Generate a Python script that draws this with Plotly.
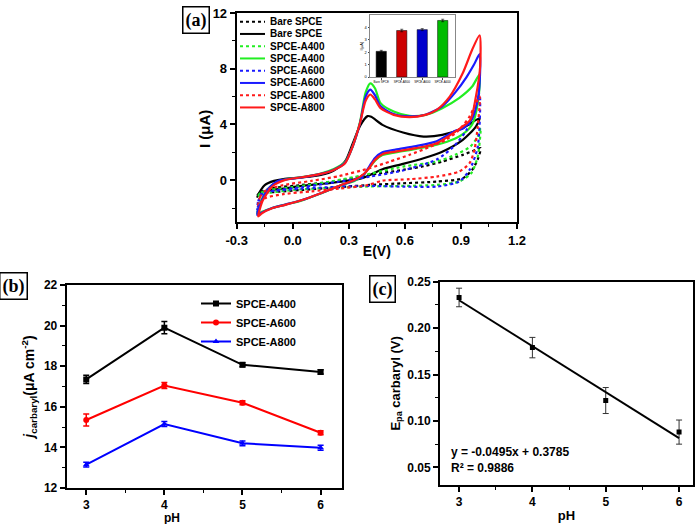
import plotly.graph_objects as go

# ---------------- Panel (a): cyclic voltammograms ----------------
bare_dot_E = [-0.19, -0.17, -0.12, 0.05, 0.22, 0.41, 0.59, 0.70, 0.80, 0.91, 0.98, 1.005,
              0.99, 0.96, 0.91, 0.77, 0.59, 0.41, 0.25, 0.05, -0.10, -0.17, -0.19]
bare_dot_I = [-1.1, -0.85, -0.6, -0.34, -0.1, 0.38, 0.74, 1.0, 1.34, 1.82, 2.18, 2.3,
              1.5, 0.74, 0.14, -0.1, -0.22, -0.34, -0.5, -0.7, -0.85, -0.95, -1.1]

bare_E = [-0.19, -0.17, -0.15, -0.10, -0.05, 0.05, 0.15, 0.22, 0.28, 0.32, 0.36, 0.40, 0.42, 0.48,
          0.59, 0.70, 0.80, 0.91, 1.00,
          0.98, 0.91, 0.80, 0.70, 0.59, 0.48, 0.44, 0.37, 0.26, 0.15, 0.05, -0.04, -0.13, -0.17, -0.19]
bare_I = [-1.2, -0.7, -0.35, -0.05, 0.08, 0.2, 0.38, 0.7, 1.35, 2.6, 3.9, 4.6, 4.55, 3.97,
          3.42, 3.13, 3.25, 3.73, 4.45,
          3.85, 2.9, 2.05, 1.58, 1.17, 0.79, 0.55, 0.15, -0.1, -0.27, -0.41, -0.58, -0.75, -0.9, -1.2]

a400_dot_E = [-0.19, -0.17, -0.12, 0.0, 0.2, 0.41, 0.59, 0.77, 0.87, 0.95, 0.99, 1.005,
              0.99, 0.955, 0.89, 0.77, 0.59, 0.41, 0.2, 0.0, -0.12, -0.17, -0.19]
a400_dot_I = [-1.2, -0.9, -0.7, -0.5, -0.1, 0.45, 0.98, 1.34, 1.82, 2.41, 3.13, 3.75,
              1.7, 0.5, -0.1, -0.34, -0.41, -0.45, -0.55, -0.7, -0.9, -1.0, -1.2]

a400_E = [-0.19, -0.17, -0.13, -0.08, -0.04, 0.05, 0.15, 0.22, 0.28, 0.32, 0.36, 0.39, 0.415, 0.44,
          0.47, 0.54, 0.625, 0.71, 0.80, 0.89, 0.96, 1.00,
          0.99, 0.96, 0.91, 0.87, 0.77, 0.66, 0.55, 0.48, 0.44, 0.41, 0.38, 0.33, 0.26, 0.15, 0.05,
          -0.04, -0.11, -0.17, -0.19]
a400_I = [-2.4, -1.5, -0.6, -0.1, 0.05, 0.22, 0.48, 0.8, 1.3, 2.4, 4.2, 6.3, 6.95, 6.6,
          5.53, 4.93, 4.62, 4.69, 5.17, 5.89, 6.72, 7.6,
          5.5, 4.0, 3.3, 3.0, 2.55, 2.25, 2.0, 1.8, 1.4, 0.9, 0.4, -0.05, -0.35, -0.95, -1.45,
          -1.75, -2.0, -2.3, -2.4]

a600_dot_E = [-0.19, -0.185, -0.16, -0.1, 0.05, 0.2, 0.41, 0.59, 0.77, 0.86, 0.93, 0.97, 1.0,
              0.99, 0.946, 0.89, 0.77, 0.59, 0.41, 0.2, 0.0, -0.12, -0.17, -0.19]
a600_dot_I = [-2.2, -1.5, -0.95, -0.75, -0.5, -0.2, 0.25, 0.7, 1.48, 2.41, 3.61, 5.05, 6.15,
              2.4, 0.74, -0.1, -0.46, -0.46, -0.41, -0.5, -0.65, -0.8, -1.0, -2.2]

a600_E = [-0.19, -0.17, -0.13, -0.08, -0.04, 0.05, 0.15, 0.22, 0.28, 0.32, 0.36, 0.39, 0.415, 0.44,
          0.47, 0.54, 0.625, 0.71, 0.80, 0.87, 0.93, 0.97, 1.00,
          1.00, 0.99, 0.96, 0.91, 0.87, 0.77, 0.66, 0.55, 0.48, 0.44, 0.41, 0.38, 0.33, 0.26, 0.15,
          0.05, -0.04, -0.11, -0.17, -0.19]
a600_I = [-2.5, -1.6, -0.6, -0.05, 0.05, 0.2, 0.45, 0.75, 1.25, 2.4, 4.1, 6.0, 6.5, 6.1,
          5.3, 4.75, 4.58, 4.7, 5.3, 6.3, 7.4, 8.3, 9.05,
          7.0, 5.8, 4.4, 3.7, 3.55, 2.8, 2.45, 2.2, 2.0, 1.6, 1.0, 0.4, 0.0, -0.35, -0.93,
          -1.42, -1.75, -2.0, -2.35, -2.5]

a800_dot_E = [-0.185, -0.175, -0.14, -0.05, 0.1, 0.25, 0.41, 0.52, 0.625, 0.73, 0.82, 0.89, 0.946,
              0.98, 1.0,
              0.99, 0.972, 0.946, 0.89, 0.77, 0.625, 0.48, 0.4, 0.25, 0.1, -0.05, -0.15, -0.185]
a800_dot_I = [-1.8, -1.2, -0.7, -0.35, -0.05, 0.3, 0.86, 1.34, 1.82, 2.37, 2.9, 3.61, 4.57,
              5.53, 6.0,
              3.85, 2.18, 1.22, 0.62, 0.26, 0.07, -0.03, -0.35, -0.6, -0.8, -1.0, -1.3, -1.8]

a800_E = [-0.185, -0.16, -0.11, -0.04, 0.05, 0.15, 0.22, 0.28, 0.32, 0.36, 0.39, 0.415, 0.44, 0.47,
          0.54, 0.625, 0.71, 0.77, 0.84, 0.91, 0.96, 1.00,
          1.003, 0.98, 0.95, 0.87, 0.77, 0.66, 0.55, 0.48, 0.44, 0.41, 0.385, 0.33, 0.26, 0.15,
          0.05, -0.04, -0.11, -0.165, -0.185]
a800_I = [-2.6, -1.45, -0.45, 0.02, 0.21, 0.45, 0.74, 1.22, 2.41, 4.1, 5.7, 6.15, 5.8, 5.17,
          4.69, 4.52, 4.69, 5.05, 6.0, 7.69, 9.36, 10.4,
          8.2, 6.0, 4.33, 3.49, 2.66, 2.3, 2.05, 1.87, 1.46, 0.9, 0.5, 0.02, -0.34, -0.93,
          -1.42, -1.77, -2.01, -2.37, -2.6]

cv_names = ["Bare SPCE", "Bare SPCE", "SPCE-A400", "SPCE-A400",
            "SPCE-A600", "SPCE-A600", "SPCE-A800", "SPCE-A800"]

# inset bar chart
inset_labels = ["Bare SPCE", "SPCE-A800", "SPCE-A600", "SPCE-A400"]
inset_values = [2.07, 3.75, 3.82, 4.56]
inset_err = [0.08, 0.1, 0.08, 0.1]

# ---------------- Panel (b) ----------------
ph_b = [3, 4, 5, 6]
j_a400 = [17.35, 19.9, 18.07, 17.72]
j_a400_err = [0.2, 0.3, 0.1, 0.1]
j_a600 = [15.35, 17.05, 16.2, 14.72]
j_a600_err = [0.3, 0.15, 0.1, 0.1]
j_a800 = [13.15, 15.15, 14.2, 13.98]
j_a800_err = [0.12, 0.12, 0.12, 0.12]

# ---------------- Panel (c) ----------------
ph_c = [3, 4, 5, 6]
epa = [0.233, 0.179, 0.122, 0.088]
epa_err = [0.010, 0.011, 0.014, 0.013]
fit_slope = -0.0495
fit_intercept = 0.3785
fit_x = [3, 6]

W, H = 700, 524


def px(x):
    return x / W


def py(y):
    return 1 - y / H


BLACK = "#000000"
GREEN = "#22ee22"
BLUE = "#1a1aff"
RED = "#ff1a1a"
FONT = "Liberation Sans"

fig = go.Figure()

cv_sets = [
    (bare_dot_E, bare_dot_I, BLACK, "dot"), (bare_E, bare_I, BLACK, "solid"),
    (a400_dot_E, a400_dot_I, GREEN, "dot"), (a400_E, a400_I, GREEN, "solid"),
    (a600_dot_E, a600_dot_I, BLUE, "dot"), (a600_E, a600_I, BLUE, "solid"),
    (a800_dot_E, a800_dot_I, RED, "dot"), (a800_E, a800_I, RED, "solid"),
]
for (ex, iy, col, dash), nm in zip(cv_sets, cv_names):
    fig.add_trace(go.Scatter(x=ex, y=iy, mode="lines", name=nm, showlegend=False,
                             line=dict(color=col, width=2.2, dash=dash, shape="spline", smoothing=0.7),
                             xaxis="x", yaxis="y"))

# inset bars
fig.add_trace(go.Bar(x=[0, 1, 2, 3], y=inset_values, width=0.5,
                     marker=dict(color=["#000000", "#cc0000", "#0000cc", "#00bb00"],
                                 line=dict(color="black", width=0.5)),
                     error_y=dict(type="data", array=inset_err, thickness=0.6, width=1.5, color="black"),
                     showlegend=False, xaxis="x4", yaxis="y4"))

# panel (b)
for yv, err, col, sym, nm in [(j_a400, j_a400_err, BLACK, "square", "SPCE-A400"),
                              (j_a600, j_a600_err, "#ff0000", "circle", "SPCE-A600"),
                              (j_a800, j_a800_err, "#0000ff", "triangle-up", "SPCE-A800")]:
    fig.add_trace(go.Scatter(x=ph_b, y=yv, mode="lines+markers", name=nm,
                             line=dict(color=col, width=2),
                             marker=dict(symbol=sym, size=6, color=col),
                             error_y=dict(type="data", array=err, thickness=1.5, width=3, color=col),
                             xaxis="x2", yaxis="y2", legend="legend"))

# panel (c)
fig.add_trace(go.Scatter(x=ph_c, y=epa, mode="markers", showlegend=False,
                         marker=dict(symbol="square", size=5, color="black"),
                         error_y=dict(type="data", array=epa_err, thickness=1, width=3, color="#333333"),
                         xaxis="x3", yaxis="y3"))
fig.add_trace(go.Scatter(x=fit_x, y=[fit_slope * v + fit_intercept for v in fit_x], mode="lines",
                         showlegend=False, line=dict(color="black", width=2),
                         xaxis="x3", yaxis="y3"))


def axis(**kw):
    base = dict(showline=True, linewidth=2, linecolor="black", mirror=True,
                ticks="outside", ticklen=5, tickwidth=1.5, tickcolor="black",
                showgrid=False, zeroline=False, automargin=False,
                tickfont=dict(family=FONT, size=13, color="black", weight="bold"))
    base.update(kw)
    return base


tf12 = dict(family=FONT, size=12, color="black", weight="bold")

fig.update_layout(
    width=W, height=H, margin=dict(l=0, r=0, t=0, b=0, pad=0, autoexpand=False),
    paper_bgcolor="white", plot_bgcolor="white",
    xaxis=axis(domain=[px(236.7), px(517)], range=[-0.3, 1.2], tickvals=[-0.3, 0, 0.3, 0.6, 0.9, 1.2],
               ticktext=["-0.3", "0.0", "0.3", "0.6", "0.9", "1.2"],
               minor=dict(ticks="outside", ticklen=3, tickwidth=1, tickcolor="black", tick0=-0.3, dtick=0.15),
               title=dict(text="E(V)", font=dict(family=FONT, size=14, color="black", weight="bold"), standoff=0),
               anchor="y"),
    yaxis=axis(domain=[py(222), py(13)], range=[-3, 12], tickvals=[0, 4, 8, 12],
               minor=dict(ticks="outside", ticklen=3, tickwidth=1, tickcolor="black", tick0=0, dtick=2),
               anchor="x"),
    xaxis2=axis(domain=[px(66.7), px(341.7)], range=[2.75, 6.27], tickvals=[3, 4, 5, 6],
                tickfont=tf12,
                minor=dict(ticks="outside", ticklen=3, tickwidth=1, tickcolor="black", tick0=3, dtick=0.5),
                anchor="y2"),
    yaxis2=axis(domain=[py(488), py(285)], range=[12, 22], tickvals=[12, 14, 16, 18, 20, 22],
                tickfont=tf12,
                minor=dict(ticks="outside", ticklen=3, tickwidth=1, tickcolor="black", tick0=12, dtick=1),
                title=dict(text="<i>j</i><sub>carbaryl</sub>(μA cm<sup>-2</sup>)",
                           font=dict(family=FONT, size=14, color="black", weight="bold"), standoff=6),
                anchor="x2"),
    xaxis3=axis(domain=[px(440), px(693)], range=[2.74, 6.19], tickvals=[3, 4, 5, 6],
                tickfont=tf12,
                minor=dict(ticks="outside", ticklen=3, tickwidth=1, tickcolor="black", tick0=3, dtick=0.5),
                title=dict(text="pH", font=dict(family=FONT, size=13, color="black", weight="bold"), standoff=2),
                anchor="y3"),
    yaxis3=axis(domain=[py(485), py(281.7)], range=[0.031, 0.25],
                tickvals=[0.05, 0.10, 0.15, 0.20, 0.25], ticktext=["0.05", "0.10", "0.15", "0.20", "0.25"],
                tickfont=tf12,
                minor=dict(ticks="outside", ticklen=3, tickwidth=1, tickcolor="black", tick0=0.025, dtick=0.025),
                title=dict(text="E<sub>pa</sub> carbaryl (V)",
                           font=dict(family=FONT, size=13, color="black", weight="bold"), standoff=4),
                anchor="x3"),
    xaxis4=dict(domain=[px(370), px(455)], range=[-0.55, 3.6], tickvals=[0, 1, 2, 3], ticktext=inset_labels,
                showline=True, linewidth=1, linecolor="#888888", mirror=True, ticks="outside", ticklen=1.5,
                tickcolor="#444444", showgrid=False, zeroline=False, tickangle=0, automargin=False,
                tickfont=dict(family=FONT, size=3, color="black"), anchor="y4"),
    yaxis4=dict(domain=[py(77), py(15)], range=[0, 5], tickvals=[0, 1, 2, 3, 4],
                showline=True, linewidth=1, linecolor="#888888", mirror=True, ticks="outside", ticklen=1.5,
                tickcolor="#444444", showgrid=False, zeroline=False, automargin=False,
                tickfont=dict(family=FONT, size=4, color="black"),
                title=dict(text="I(μA)", font=dict(family=FONT, size=4, color="black"), standoff=1),
                anchor="x4"),
    legend=dict(x=px(196), y=py(289), xanchor="left", yanchor="top",
                bgcolor="rgba(0,0,0,0)", font=dict(family=FONT, size=11, color="black", weight="bold"),
                tracegroupgap=0),
)

ann = []
# panel labels
for txt, cx, cy in [("(a)", 195.5, 19.5), ("(b)", 13.5, 285.5), ("(c)", 382.5, 289)]:
    ann.append(dict(text=f"<b>{txt}</b>", x=px(cx), y=py(cy), xref="paper", yref="paper",
                    showarrow=False, xanchor="center", yanchor="middle",
                    font=dict(family="Liberation Serif", size=18, color="black"),
                    bordercolor="black", borderwidth=1.5, borderpad=2, bgcolor="white"))
# panel (a) y title
ann.append(dict(text="I (μA)", x=px(204), y=py(129), xref="paper", yref="paper", showarrow=False,
                textangle=-90, xanchor="center", yanchor="middle",
                font=dict(family=FONT, size=15, color="black", weight="bold")))
# panel (b) x title
ann.append(dict(text="pH", x=px(172), y=py(518), xref="paper", yref="paper", showarrow=False,
                xanchor="center", yanchor="middle", borderpad=0,
                font=dict(family=FONT, size=12, color="black", weight="bold")))
# equation
ann.append(dict(text="y = -0.0495x + 0.3785<br>R² = 0.9886", x=px(449), y=py(460), xref="paper",
                yref="paper", showarrow=False, xanchor="left", yanchor="middle", align="left",
                font=dict(family=FONT, size=12, color="black", weight="bold")))

# manual legend for panel (a)
shapes = []
leg_colors = [BLACK, BLACK, GREEN, GREEN, BLUE, BLUE, RED, RED]
leg_dash = ["dot", "solid"] * 4
for i, (nm, col, dsh) in enumerate(zip(cv_names, leg_colors, leg_dash)):
    yy = 21.7 + i * 12.25
    shapes.append(dict(type="line", xref="paper", yref="paper", x0=px(240), x1=px(265),
                       y0=py(yy), y1=py(yy), line=dict(color=col, width=2, dash=dsh)))
    ann.append(dict(text=nm, x=px(268), y=py(yy), xref="paper", yref="paper", showarrow=False,
                    xanchor="left", yanchor="middle",
                    font=dict(family=FONT, size=10, color="black", weight="bold")))

fig.update_layout(annotations=ann, shapes=shapes)
fig.write_html("out.html", config={"displayModeBar": False},
               post_script="document.body.style.margin='0';document.body.style.padding='0';"
                           "document.body.style.overflow='hidden';")
